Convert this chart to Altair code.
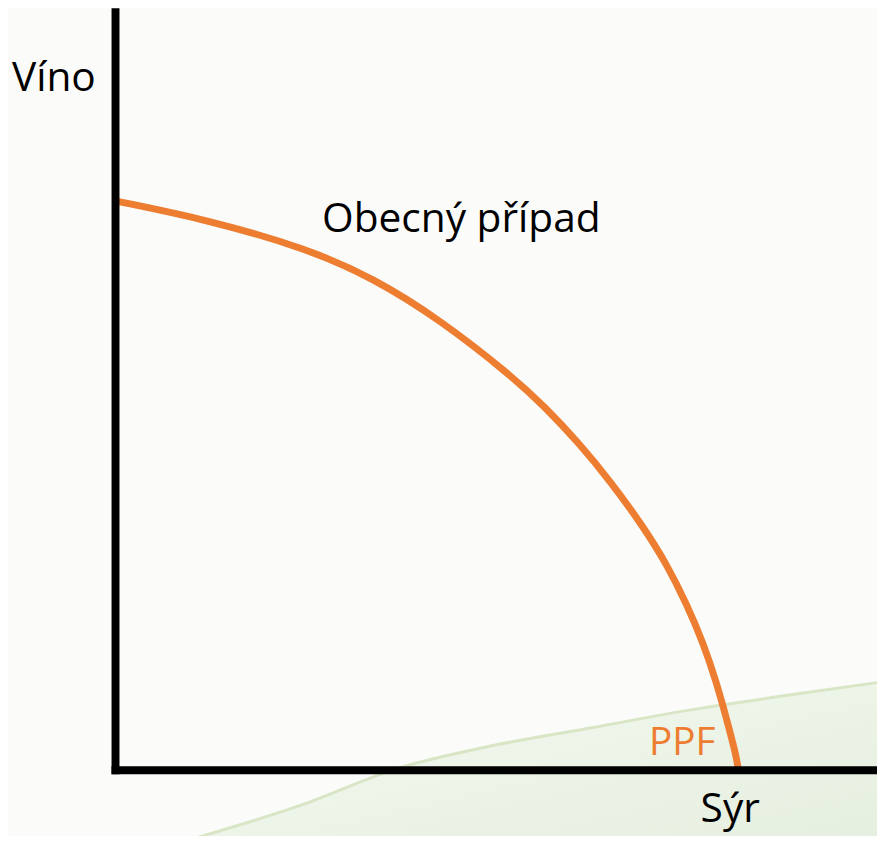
import altair as alt
import pandas as pd

# PPF curve (Sýr on x, Víno on y)
ppf_x = [1, 94, 194, 261, 327, 401, 434, 467, 501, 534, 557, 577, 594, 607, 617, 627, 629]
ppf_y = [574, 555, 526, 496, 455, 397, 366, 331, 290, 244, 207, 167, 127, 88, 52, 14, 0]

# decorative background swoosh
sw_x = [74, 184, 284, 384, 484, 584, 684, 769]
sw_y = [-71, -37, 1, 25, 43, 61, 76, 88]
sw_floor = -71

# labels
lab_text = ["Víno", "Obecný případ", "Sýr"]
lab_x = [-104, 209, 591]
lab_y = [685, 543, -53]
ppf_label = ["PPF"]
ppf_lx = [539]
ppf_ly = [15]

X_MAX = 769
Y_MAX = 765
FONT = "Open Sans"

axis_spec = alt.Axis(title=None, labels=False, ticks=False, grid=False, zindex=1,
                     domainColor="black", domainWidth=8, domainCap="square")
X = alt.X("x:Q", scale=alt.Scale(domain=[0, X_MAX], nice=False, zero=False), axis=axis_spec)
Y = alt.Y("y:Q", scale=alt.Scale(domain=[0, Y_MAX], nice=False, zero=False), axis=axis_spec)

ppf = pd.DataFrame({"x": ppf_x, "y": ppf_y})
sw = pd.DataFrame({"x": sw_x, "y": sw_y, "y0": [sw_floor] * len(sw_x)})
labs = pd.DataFrame({"t": lab_text, "x": lab_x, "y": lab_y})
plab = pd.DataFrame({"t": ppf_label, "x": ppf_lx, "y": ppf_ly})

swoosh = alt.Chart(sw).mark_area(
    interpolate="monotone",
    color=alt.Gradient(
        gradient="linear",
        stops=[alt.GradientStop(color="#f5f9f1", offset=0),
               alt.GradientStop(color="#e5efdf", offset=1)],
        x1=0, x2=1, y1=0, y2=1,
    ),
).encode(x=X, y=Y, y2="y0:Q")

swoosh_edge = alt.Chart(sw).mark_line(
    interpolate="monotone", color="#d8e6c6", strokeWidth=3
).encode(x=X, y=Y)

curve = alt.Chart(ppf).mark_line(
    interpolate="basis", color="#ED7D31", strokeWidth=7, strokeCap="round"
).encode(x=X, y=Y)

texts = alt.Chart(labs).mark_text(
    align="left", baseline="alphabetic", font=FONT, fontSize=41, color="black"
).encode(x=X, y=Y, text="t:N")

ptext = alt.Chart(plab).mark_text(
    align="left", baseline="alphabetic", font=FONT, fontSize=39, color="#ED7D31"
).encode(x=X, y=Y, text="t:N")

chart = alt.layer(swoosh, swoosh_edge, curve, texts, ptext).properties(
    width=X_MAX, height=Y_MAX,
    background="#fbfcfa",
    padding={"left": 108, "top": 0, "right": 0, "bottom": 63},
    autosize=alt.AutoSizeParams(type="none"),
).configure_view(stroke=None)

chart.save("out.html", embed_options={"renderer": "svg", "actions": False})
